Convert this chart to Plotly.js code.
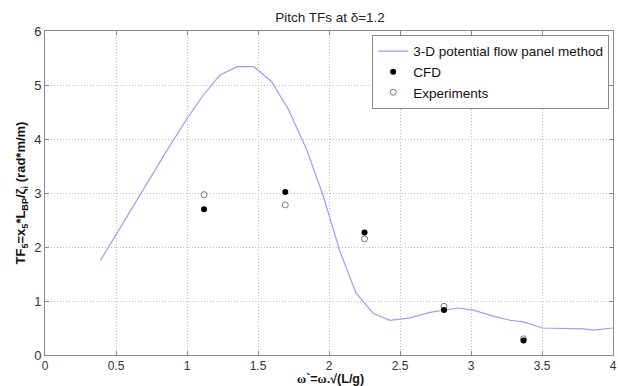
<!DOCTYPE html>
<html>
<head>
<meta charset="utf-8">
<script src="https://cdn.plot.ly/plotly-3.0.1.min.js"></script>
<style>html,body{margin:0;padding:0;background:#fff;}#chart{width:618px;height:386px;}</style>
</head>
<body>
<div id="chart"></div>
<script>
// Data
var panelX = [0.39, 0.669, 0.857, 1.0, 1.115, 1.232, 1.354, 1.472, 1.596, 1.713, 1.843, 1.96, 2.077, 2.19, 2.312, 2.43, 2.57, 2.71, 2.91, 3.016, 3.157, 3.275, 3.368, 3.505, 3.79, 3.86, 4.0];
var panelY = [1.75, 2.97, 3.78, 4.38, 4.815, 5.185, 5.34, 5.34, 5.06, 4.556, 3.80, 2.94, 1.92, 1.15, 0.767, 0.643, 0.687, 0.79, 0.87, 0.83, 0.72, 0.643, 0.613, 0.50, 0.485, 0.46, 0.50];
var cfdX = [1.12, 1.692, 2.25, 2.81, 3.37];
var cfdY = [2.70, 3.02, 2.27, 0.835, 0.27];
var expX = [1.12, 1.692, 2.25, 2.81, 3.37];
var expY = [2.97, 2.78, 2.15, 0.90, 0.30];
var xTicks = [0, 0.5, 1, 1.5, 2, 2.5, 3, 3.5, 4];
var xTickText = ['0', '0.5', '1', '1.5', '2', '2.5', '3', '3.5', '4'];
var yTicks = [0, 1, 2, 3, 4, 5, 6];
var xTitle = '<b><span style="font-family:\'Liberation Serif\'">ω</span>`=<span style="font-family:\'Liberation Serif\'">ω</span>.√(L/g)</b>';

var font = 'Arial, "Liberation Sans", sans-serif';

var traces = [
  {x: panelX, y: panelY, type: 'scatter', mode: 'lines', name: '3-D potential flow panel method',
   line: {color: '#9c9cff', width: 1.2}, legendrank: 1},
  {x: expX, y: expY, type: 'scatter', mode: 'markers', name: 'Experiments',
   marker: {symbol: 'circle-open', size: 6, color: '#777', line: {width: 1, color: '#777'}}, legendrank: 3},
  {x: cfdX, y: cfdY, type: 'scatter', mode: 'markers', name: 'CFD',
   marker: {symbol: 'circle', size: 6, color: '#000'}, legendrank: 2}
];

var layout = {
  width: 618, height: 386,
  margin: {l: 45, r: 5, t: 31, b: 31},
  paper_bgcolor: '#fff', plot_bgcolor: '#fff',
  font: {family: font, size: 13, color: '#222'},
  showlegend: true,
  title: {text: 'Pitch TFs at δ=1.2', x: 0.534, xanchor: 'center', y: 0.955, yanchor: 'middle', yref: 'container',
          font: {family: font, size: 13.5, color: '#222'}},
  xaxis: {
    range: [0, 4], tickvals: xTicks, ticktext: xTickText,
    showgrid: true, gridcolor: '#bdbdbd', griddash: '1px,2px', gridwidth: 1,
    showline: true, linecolor: '#8a8a8a', linewidth: 1, mirror: 'ticks',
    ticks: 'inside', ticklen: 4, tickcolor: '#8a8a8a',
    zeroline: false, tickfont: {family: font, size: 12, color: '#333'}
  },
  yaxis: {
    range: [0, 6], tickvals: yTicks,
    showgrid: true, gridcolor: '#bdbdbd', griddash: '1px,2px', gridwidth: 1,
    showline: true, linecolor: '#8a8a8a', linewidth: 1, mirror: 'ticks',
    ticks: 'inside', ticklen: 4, tickcolor: '#8a8a8a',
    zeroline: false, tickfont: {family: font, size: 13, color: '#333'},
    title: {text: '<b>TF<sub>5</sub>=x<sub>5</sub>*L<sub>BP</sub>/ζ<sub>i</sub> (rad*m/m)</b>',
            font: {family: font, size: 13, color: '#111'}, standoff: 5}
  },
  annotations: [{
    text: xTitle, xref: 'paper', yref: 'paper', x: 0.502, y: -0.1,
    xanchor: 'center', yanchor: 'bottom', showarrow: false, borderpad: 0,
    font: {family: font, size: 12.5, color: '#111'}
  }],
  legend: {
    x: 0.576, y: 0.988, xanchor: 'left', yanchor: 'top',
    bgcolor: '#fff', bordercolor: '#8a8a8a', borderwidth: 1,
    font: {family: font, size: 13.5, color: '#111'},
    itemwidth: 30, tracegroupgap: 0
  }
};

Plotly.newPlot('chart', traces, layout, {displayModeBar: false, staticPlot: true});
</script>
</body>
</html>
